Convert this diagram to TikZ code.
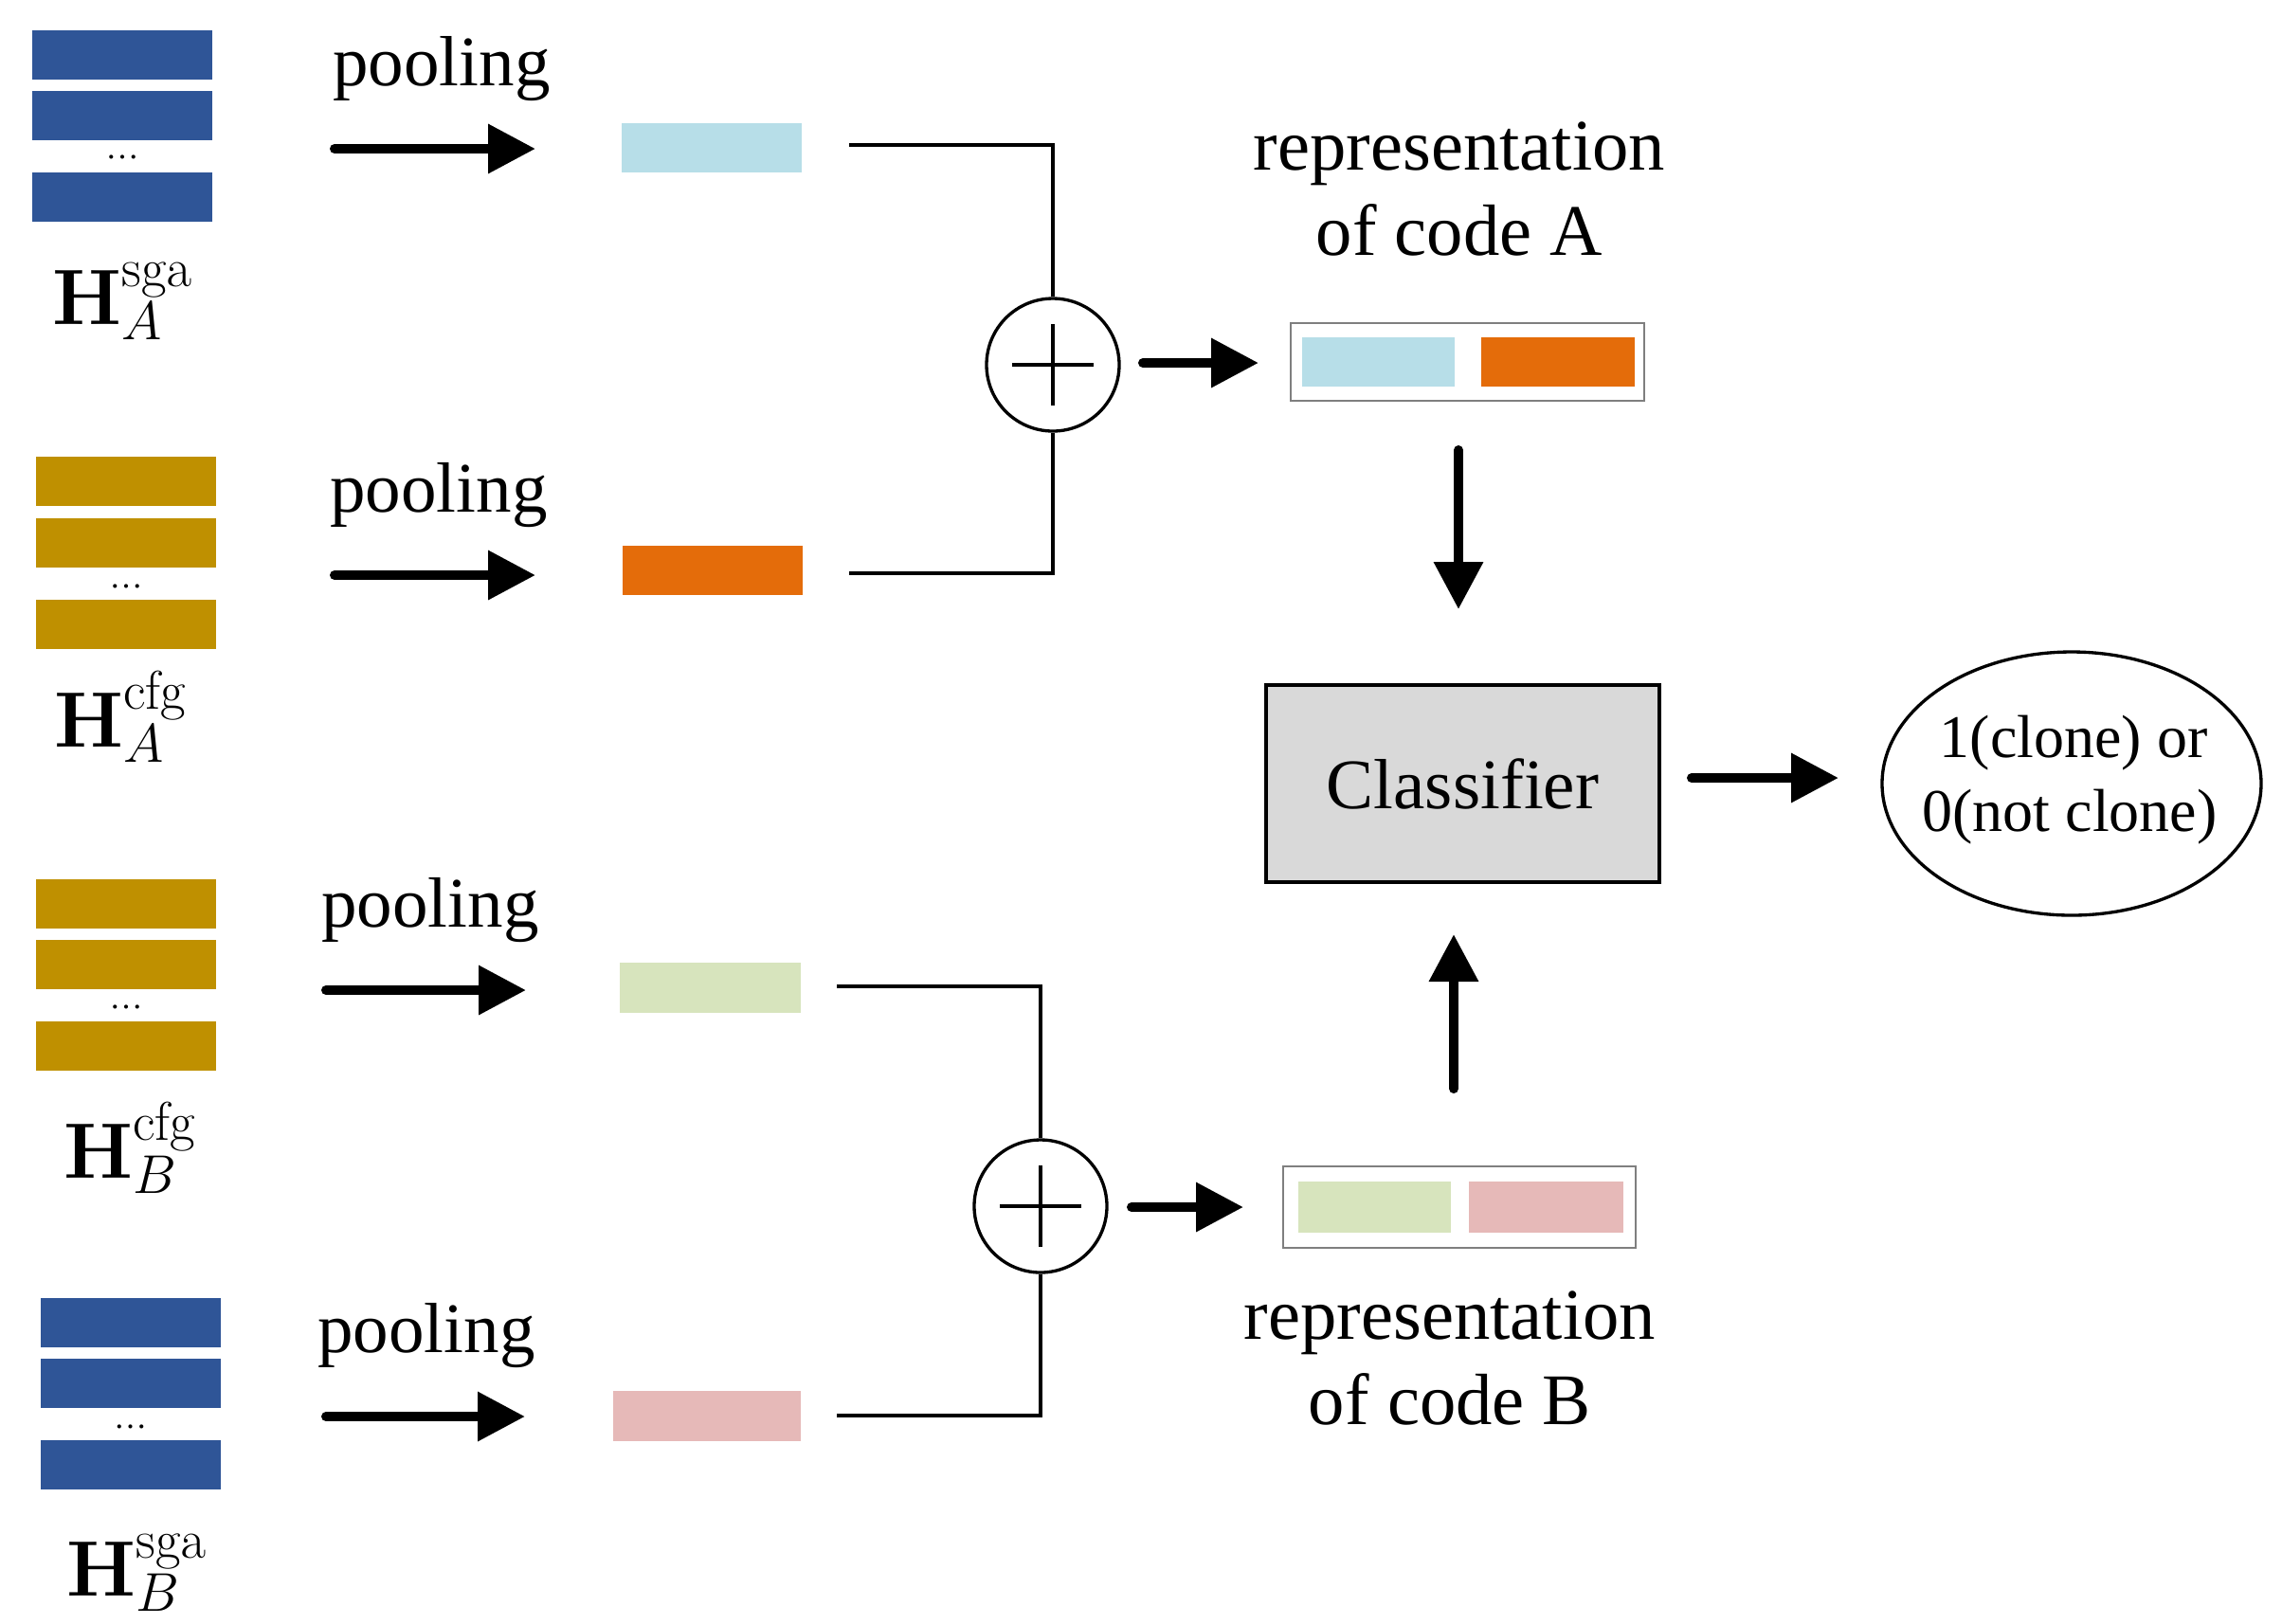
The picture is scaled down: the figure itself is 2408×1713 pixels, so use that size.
\documentclass[tikz,border=0pt]{standalone}
\usepackage[no-math]{fontspec}
\setmainfont{Liberation Serif}
\usetikzlibrary{arrows.meta,shapes.geometric}
\definecolor{hblue}{HTML}{2F5597}
\definecolor{hgold}{HTML}{BF9000}
\definecolor{plblue}{HTML}{B7DEE8}
\definecolor{porange}{HTML}{E46C0A}
\definecolor{pgreen}{HTML}{D7E4BD}
\definecolor{ppink}{HTML}{E6B9B8}
\definecolor{cgray}{HTML}{D9D9D9}
\definecolor{boxgray}{HTML}{7F7F7F}
\begin{document}
\begin{tikzpicture}[x=0.3pt,y=-0.3pt,
  bar/.style={rectangle, inner sep=0pt, minimum width=57pt, minimum height=15.6pt},
  vec/.style={rectangle, inner sep=0pt, minimum height=15.6pt},
  fatarrow/.style={line width=3pt, line cap=round, -{Triangle[length=15pt,width=15pt]}},
  thinline/.style={line width=1pt},
  lbl/.style={font=\fontsize{22.5}{27}\selectfont, anchor=base, inner sep=0pt},
  replbl/.style={font=\fontsize{23}{27}\selectfont, anchor=base, inner sep=0pt},
  mlbl/.style={font=\fontsize{25.5}{30}\selectfont, anchor=base, inner sep=0pt},
  dotlbl/.style={font=\fontsize{10.5}{12}\selectfont, anchor=base, inner sep=0pt},
  sumnode/.style={circle, draw, line width=1pt, minimum size=42pt, inner sep=0pt},
  repbox/.style={rectangle, draw=boxgray, line width=0.6pt, inner sep=0pt, minimum width=111.9pt, minimum height=25pt}
]
\useasboundingbox (0,0) rectangle (2408,1713);

% ---- stack A sga
\node[bar, fill=hblue] (as1) at (129,57.5) {};
\node[bar, fill=hblue] (as2) at (129,122) {};
\node[dotlbl] (asd) at (129,167) {\ldots};
\node[bar, fill=hblue] (as3) at (129,207.5) {};
\node[mlbl] (asl) at (130,342) {$\mathbf{H}_{A}^{\mathrm{sga}}$};

% ---- stack A cfg
\node[bar, fill=hgold] (ac1) at (133,508) {};
\node[bar, fill=hgold] (ac2) at (133,573) {};
\node[dotlbl] (acd) at (133,620) {\ldots};
\node[bar, fill=hgold] (ac3) at (133,658.5) {};
\node[mlbl] (acl) at (128,788) {$\mathbf{H}_{A}^{\mathrm{cfg}}$};

% ---- stack B cfg
\node[bar, fill=hgold] (bc1) at (133,953.5) {};
\node[bar, fill=hgold] (bc2) at (133,1018) {};
\node[dotlbl] (bcd) at (133,1064) {\ldots};
\node[bar, fill=hgold] (bc3) at (133,1103.5) {};
\node[mlbl] (bcl) at (138,1243) {$\mathbf{H}_{B}^{\mathrm{cfg}}$};

% ---- stack B sga
\node[bar, fill=hblue] (bs1) at (137.5,1395.5) {};
\node[bar, fill=hblue] (bs2) at (137.5,1460) {};
\node[dotlbl] (bsd) at (137.5,1507) {\ldots};
\node[bar, fill=hblue] (bs3) at (137.5,1545.5) {};
\node[mlbl] (bsl) at (145,1684) {$\mathbf{H}_{B}^{\mathrm{sga}}$};

% ---- pooling labels and arrows
\node[lbl] (pl1) at (466,90) {pooling};
\node[lbl] (pl2) at (463,540) {pooling};
\node[lbl] (pl3) at (454,978) {pooling};
\node[lbl] (pl4) at (450,1427) {pooling};

\coordinate (p1s) at (353,157);  \coordinate (p1e) at (565,157);
\coordinate (p2s) at (353,607);  \coordinate (p2e) at (565,607);
\coordinate (p3s) at (344,1045); \coordinate (p3e) at (555,1045);
\coordinate (p4s) at (344,1495); \coordinate (p4e) at (554,1495);
\draw[fatarrow] (p1s) -- (p1e);
\draw[fatarrow] (p2s) -- (p2e);
\draw[fatarrow] (p3s) -- (p3e);
\draw[fatarrow] (p4s) -- (p4e);

% ---- pooled vectors
\node[vec, fill=plblue, minimum width=57pt] (va1) at (751,156) {};
\node[vec, fill=porange, minimum width=57pt] (va2) at (752,602) {};
\node[vec, fill=pgreen, minimum width=57.3pt, minimum height=15.9pt] (vb1) at (749.5,1042.5) {};
\node[vec, fill=ppink, minimum width=59.4pt, minimum height=15.9pt] (vb2) at (746,1494.5) {};

% ---- sum nodes
\node[sumnode] (sumA) at (1111,385) {};
\draw[thinline] (sumA.center) +(-43,0) -- +(43,0);
\draw[thinline] (sumA.center) +(0,-43) -- +(0,43);
\node[sumnode] (sumB) at (1098,1273) {};
\draw[thinline] (sumB.center) +(-43,0) -- +(43,0);
\draw[thinline] (sumB.center) +(0,-43) -- +(0,43);

\coordinate (va1o) at (896,153);
\coordinate (va2o) at (896,605);
\coordinate (vb1o) at (883,1041);
\coordinate (vb2o) at (883,1494);
\draw[thinline] (va1o) -| (sumA.north);
\draw[thinline] (va2o) -| (sumA.south);
\draw[thinline] (vb1o) -| (sumB.north);
\draw[thinline] (vb2o) -| (sumB.south);

% ---- representation boxes
\node[repbox, minimum height=24.6pt] (repA) at (1548.5,382) {};
\node[vec, fill=plblue, minimum width=48.3pt] (repA1) at (1454.5,382) {};
\node[vec, fill=porange, minimum width=48.6pt] (repA2) at (1644,382) {};

\node[repbox, minimum width=111.6pt, minimum height=25.8pt] (repB) at (1540,1274) {};
\node[vec, fill=pgreen, minimum width=48.3pt, minimum height=16.2pt] (repB1) at (1450.5,1274) {};
\node[vec, fill=ppink, minimum width=48.9pt, minimum height=16.2pt] (repB2) at (1631.5,1274) {};

\coordinate (sAo) at (1206,383); \coordinate (sAe) at (1328,383);
\coordinate (sBo) at (1194,1274); \coordinate (sBe) at (1312,1274);
\draw[fatarrow] (sAo) -- (sAe);
\draw[fatarrow] (sBo) -- (sBe);

\node[replbl] (repAt1) at (1540,179) {representation};
\node[replbl] (repAt2) at (1540,269) {of code A};
\node[replbl] (repBt1) at (1530,1413) {representation};
\node[replbl] (repBt2) at (1530,1503) {of code B};

% ---- classifier
\node[rectangle, draw, fill=cgray, line width=1pt, minimum width=124.5pt, minimum height=62.4pt,
      font=\fontsize{22.5}{27}\selectfont] (cls) at (1543.5,827) {Classifier};

\coordinate (dAs) at (1539,475); \coordinate (dAe) at (1539,643);
\coordinate (uBs) at (1534,1149); \coordinate (uBe) at (1534,986);
\draw[fatarrow] (dAs) -- (dAe);
\draw[fatarrow] (uBs) -- (uBe);

% ---- output
\node[ellipse, draw, line width=1pt, minimum width=120pt, minimum height=83.4pt, inner sep=0pt] (out) at (2186,827) {};
\node[font=\fontsize{19.2}{23.4}\selectfont, anchor=base, inner sep=0pt] (outt1) at (2188,799) {1(clone) or};
\node[font=\fontsize{19.2}{23.4}\selectfont, anchor=base, inner sep=0pt] (outt2) at (2184,877) {0(not clone)};

\coordinate (cRs) at (1785,821); \coordinate (cRe) at (1940,821);
\draw[fatarrow] (cRs) -- (cRe);
\end{tikzpicture}
\end{document}
